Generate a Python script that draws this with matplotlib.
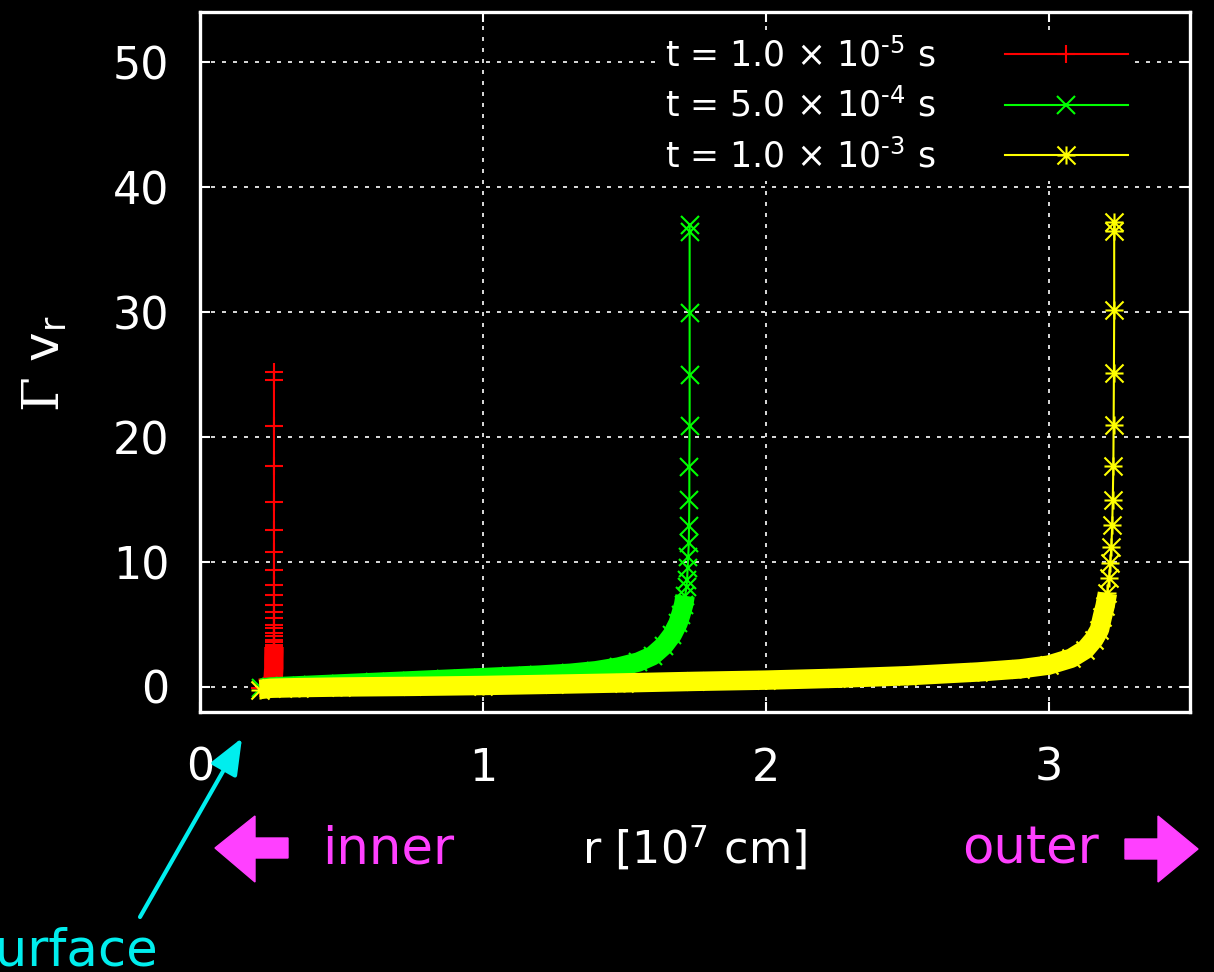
import numpy as np
import matplotlib
matplotlib.use("Agg")
import matplotlib.pyplot as plt
from matplotlib.path import Path
from matplotlib.patches import Polygon, FancyArrowPatch

plt.rcParams['font.family'] = ['DejaVu Sans']
plt.rcParams['mathtext.fontset'] = 'dejavuserif'

# Radial profiles of Gamma * v_r at three times (r in units of 1e7 cm)
red_r = [0.212, 0.225, 0.238, 0.248, 0.255, 0.259, 0.261, 0.261] + [0.2615] * 22
red_gv = [-0.1, -0.05, 0.0, 0.1, 0.3, 0.8, 1.5, 2.2, 2.8, 3.2, 3.4, 3.6, 3.8, 4.1,
          4.3, 4.7, 5.0, 5.5, 6.0, 6.6, 7.4, 8.2, 9.4, 10.8, 12.6, 14.8, 17.7,
          20.9, 24.6, 25.2]

green_r = [0.215, 0.25, 0.30, 0.40, 0.50, 0.62, 0.75, 0.87, 1.00, 1.10, 1.20,
           1.31, 1.40, 1.48, 1.55, 1.60, 1.64, 1.67, 1.69, 1.70, 1.71, 1.715,
           1.72, 1.722, 1.724, 1.726, 1.728, 1.729, 1.730, 1.730,
           1.731, 1.731, 1.731, 1.731, 1.731]
green_gv = [-0.1, 0.0, 0.05, 0.15, 0.25, 0.37, 0.5, 0.62, 0.75, 0.85, 0.95,
            1.1, 1.3, 1.6, 2.0, 2.5, 3.3, 4.2, 5.1, 5.8, 6.6, 7.3,
            8.0, 8.6, 9.5, 10.4, 11.5, 12.9, 15.0, 17.6,
            20.9, 25.0, 29.9, 36.4, 37.0]

yellow_r = [0.212, 0.25, 0.35, 0.50, 0.75, 1.00, 1.25, 1.50, 1.75, 2.00, 2.25,
            2.50, 2.75, 2.90, 3.00, 3.08, 3.13, 3.16, 3.18, 3.19, 3.20, 3.208,
            3.214, 3.218, 3.222, 3.225, 3.227, 3.229, 3.23, 3.231, 3.232,
            3.232, 3.232]
yellow_gv = [-0.2, -0.1, -0.05, 0.0, 0.05, 0.12, 0.22, 0.33, 0.45, 0.55, 0.7,
             0.9, 1.2, 1.45, 1.75, 2.3, 3.0, 3.8, 4.6, 5.6, 6.5, 7.5,
             8.7, 9.9, 11.2, 13.0, 15.0, 17.7, 21.0, 25.1, 30.2, 36.5, 37.2]

labels = ['t = 1.0 × 10$^{\\mathregular{\u20105}}$ s',
          't = 5.0 × 10$^{\\mathregular{\u20104}}$ s',
          't = 1.0 × 10$^{\\mathregular{\u20103}}$ s']
colors = ['#ff0000', '#00ff00', '#ffff00']
# below this value the grid points crowd together into a solid band
band_cut = [3.3, 7.6, 7.6]

x_ticks = [0, 1, 2, 3]
y_ticks = [0, 10, 20, 30, 40, 50]

W, H = 1214, 972
fig = plt.figure(figsize=(W / 100, H / 100), dpi=100, facecolor='black')
ax = fig.add_axes([200 / W, 1 - 712 / H, 990 / W, 700 / H], facecolor='black')

# gnuplot-style asterisk: plus and cross overlaid
ast = Path([(-1, 0), (1, 0), (0, -1), (0, 1), (-1, -1), (1, 1), (-1, 1), (1, -1)],
           [Path.MOVETO, Path.LINETO] * 4)
markers = ['+', 'x', ast]

series = [(red_r, red_gv), (green_r, green_gv), (yellow_r, yellow_gv)]
for i, ((r, gv), c, m, lab, cut) in enumerate(zip(series, colors, markers, labels, band_cut)):
    r = np.asarray(r)
    gv = np.asarray(gv)
    dense = gv <= cut
    ax.plot(r[dense], gv[dense], color=c, lw=14, solid_capstyle='butt',
            solid_joinstyle='round', zorder=3 + i)
    ax.plot(r, gv, color=c, lw=1.5, marker=m, ms=13, mew=1.5, label=lab,
            zorder=3 + i)

ax.set_xlim(0, 3.5)
ax.set_ylim(-2, 54)
ax.set_xticks(x_ticks)
ax.set_yticks(y_ticks)
ax.grid(True, color='white', lw=1.2, linestyle=(0, (2.4, 4.2)), zorder=1)
ax.set_axisbelow(True)
for s in ax.spines.values():
    s.set_color('white')
    s.set_linewidth(2.4)
    s.set_zorder(10)
ax.tick_params(direction='in', length=7, width=1.5, colors='white',
               top=True, right=True, labelsize=32)
ax.tick_params(axis='x', pad=25)
ax.tick_params(axis='y', pad=22)

leg = ax.legend(loc='upper right', bbox_to_anchor=(1135 / W, 1 - 31 / H),
                bbox_transform=fig.transFigure, markerfirst=False,
                fontsize=25, handlelength=3.55, handletextpad=2.0,
                labelspacing=0.43, borderpad=0.2, borderaxespad=0,
                frameon=True, facecolor='black', edgecolor='none',
                framealpha=1.0, labelcolor='white')
leg.get_frame().set_linewidth(0)
leg.set_zorder(20)

fig.text(695 / W, 1 - 864 / H, 'r [10$^{\\mathregular{7}}$ cm]', color='white',
         fontsize=32, ha='center', va='baseline')
fig.text(45 / W, 1 - 364 / H, '$\\Gamma$ v$_{\\mathregular{r}}$', color='white',
         fontsize=36, rotation=90, ha='center', va='center')

pink = '#ff40ff'
cyan = '#00eeee'
fig.text(322 / W, 1 - 864 / H, 'inner', color=pink, fontsize=37, va='baseline')
fig.text(962 / W, 1 - 864 / H, 'outer', color=pink, fontsize=37, va='baseline')
fig.text(158 / W, 1 - 965 / H, 'surface', color=cyan, fontsize=37,
         ha='right', va='baseline')


def px(pts):
    return [(x / 100, (H - y) / 100) for x, y in pts]


left_arrow = [(215, 848), (255, 816), (255, 838), (288, 838), (288, 858),
              (255, 858), (255, 882)]
right_arrow = [(1198, 849), (1158, 816), (1158, 839), (1125, 839), (1125, 859),
               (1158, 859), (1158, 882)]
for poly in (left_arrow, right_arrow):
    fig.add_artist(Polygon(px(poly), closed=True, facecolor=pink, edgecolor=pink,
                           lw=1, transform=fig.dpi_scale_trans))

(a0, a1) = px([(140, 917), (242, 738)])
fig.add_artist(FancyArrowPatch(a0, a1, arrowstyle='-|>,head_length=1.1,head_width=0.45',
                               mutation_scale=20, color=cyan, lw=3,
                               shrinkA=0, shrinkB=0, transform=fig.dpi_scale_trans))

fig.savefig('out.png', dpi=100, facecolor='black')
